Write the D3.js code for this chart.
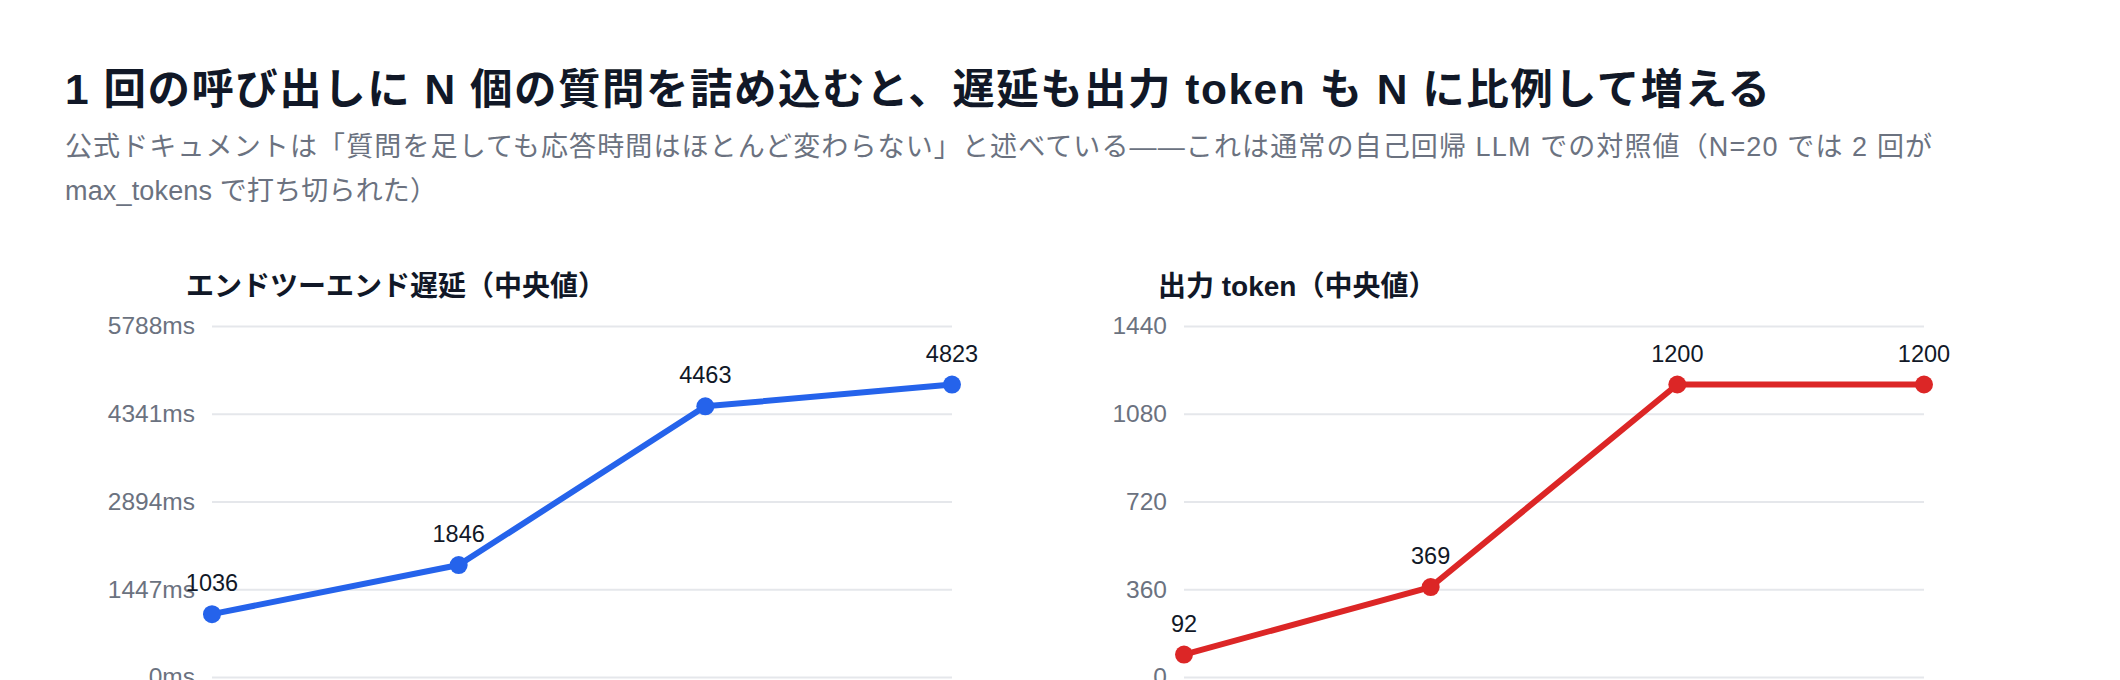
<!DOCTYPE html>
<html>
<head>
<meta charset="utf-8">
<script src="https://cdn.jsdelivr.net/npm/d3@7/dist/d3.min.js"></script>
<style>
  html, body { margin: 0; padding: 0; background: #ffffff; overflow: hidden; }
  svg { display: block; }
  text { font-family: "Liberation Sans", "Noto Sans CJK JP", sans-serif; }
</style>
</head>
<body>
<svg id="chart" width="2120" height="680"></svg>
<script>
// ---- data ----
const categories = ["N=1", "N=5", "N=10", "N=20"];
const latencyMs = [1036, 1846, 4463, 4823];
const outputTokens = [92, 369, 1200, 1200];
const latencyTicks = [0, 1447, 2894, 4341, 5788];
const tokenTicks = [0, 360, 720, 1080, 1440];

const titleText = "1 回の呼び出しに N 個の質問を詰め込むと、遅延も出力 token も N に比例して増える";
const subtitleLines = [
  "公式ドキュメントは「質問を足しても応答時間はほとんど変わらない」と述べている——これは通常の自己回帰 LLM での対照値（N=20 では 2 回が",
  "max_tokens で打ち切られた）"
];
const panelTitles = ["エンドツーエンド遅延（中央値）", "出力 token（中央値）"];

// ---- layout ----
const svg = d3.select("#chart");

// fit a text to a target width by spreading letters
function fitWidth(sel, target) {
  sel.each(function () {
    const n = this.textContent.length;
    const w = this.getComputedTextLength();
    const ls = (target - w) / Math.max(1, n - 1);
    d3.select(this).attr("letter-spacing", ls.toFixed(3));
  });
}

svg.append("text")
  .attr("x", 65).attr("y", 104)
  .attr("font-size", 42.5).attr("font-weight", 700)
  .attr("fill", "#111827")
  .text(titleText)
  .call(fitWidth, 1705);

const subWidths = [1867, 372];
svg.append("g").selectAll("text").data(subtitleLines).join("text")
  .attr("x", 65).attr("y", (d, i) => 156 + i * 44)
  .attr("font-size", 27)
  .attr("fill", "#6b7280")
  .text(d => d)
  .each(function (d, i) { d3.select(this).call(fitWidth, subWidths[i]); });

const plotTop = 326, plotBottom = 677;

const panels = [
  { left: 212, right: 952, values: latencyMs, ticks: latencyTicks, fmt: v => v + "ms", color: "#2563eb", title: panelTitles[0] },
  { left: 1184, right: 1924, values: outputTokens, ticks: tokenTicks, fmt: v => String(v), color: "#dc2626", title: panelTitles[1] }
];

panels.forEach(p => {
  const g = svg.append("g");
  const x = d3.scalePoint().domain(categories).range([p.left, p.right]).padding(0);
  const y = d3.scaleLinear().domain([0, d3.max(p.ticks)]).range([plotBottom, plotTop]);

  g.append("text")
    .attr("x", p.left - 26).attr("y", 296)
    .attr("font-size", 28).attr("font-weight", 700)
    .attr("fill", "#111827")
    .text(p.title);

  // grid + y axis
  const axis = d3.axisLeft(y).tickValues(p.ticks).tickFormat(p.fmt)
    .tickSize(-(p.right - p.left)).tickPadding(17);
  const ag = g.append("g").attr("transform", `translate(${p.left},0)`).call(axis);
  ag.select(".domain").remove();
  ag.selectAll(".tick line").attr("stroke", "#e5e7eb").attr("stroke-width", 2);
  ag.selectAll(".tick text")
    .attr("font-size", 24.5)
    .attr("fill", "#6b7280")
    .attr("font-family", "'Liberation Sans', 'Noto Sans CJK JP', sans-serif");

  const data = categories.map((c, i) => ({ c, v: p.values[i] }));

  g.append("path")
    .datum(data)
    .attr("fill", "none")
    .attr("stroke", p.color)
    .attr("stroke-width", 6)
    .attr("stroke-linejoin", "round")
    .attr("d", d3.line().x(d => x(d.c)).y(d => y(d.v)));

  g.selectAll("circle").data(data).join("circle")
    .attr("cx", d => x(d.c)).attr("cy", d => y(d.v))
    .attr("r", 9).attr("fill", p.color);

  g.selectAll(".vlabel").data(data).join("text")
    .attr("class", "vlabel")
    .attr("x", d => x(d.c)).attr("y", d => y(d.v) - 23)
    .attr("text-anchor", "middle")
    .attr("font-size", 23.5)
    .attr("fill", "#111827")
    .text(d => d.v);
});
</script>
</body>
</html>
